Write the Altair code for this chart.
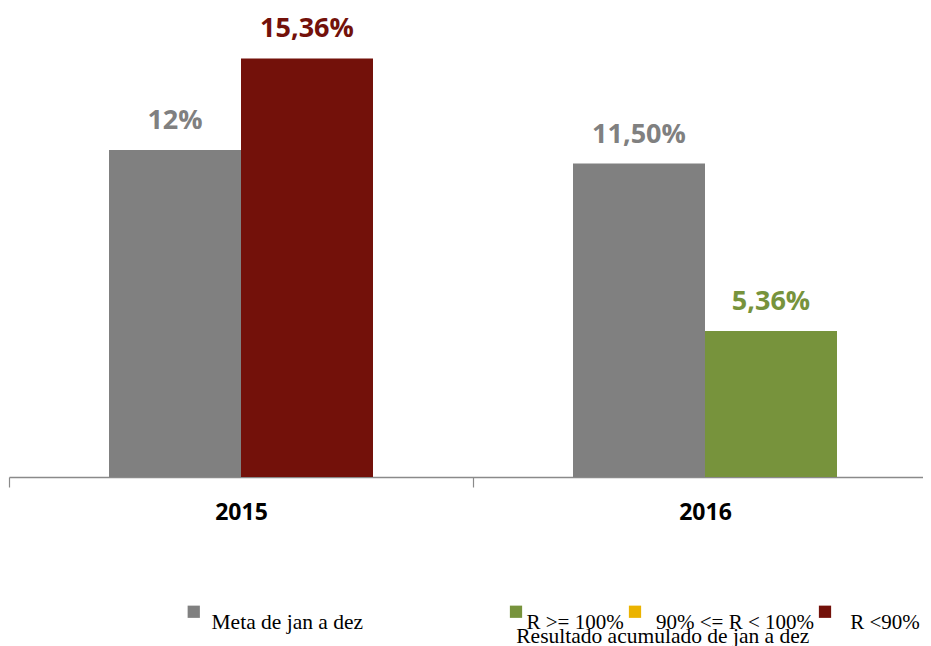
import altair as alt
import pandas as pd

# ---- data ----
years = ["2015", "2016"]
meta_values = [12.0, 11.5]
meta_labels = ["12%", "11,50%"]
result_values = [15.36, 5.36]
result_labels = ["15,36%", "5,36%"]
result_status = ["R <90%", "R >= 100%"]

meta_name = "Meta de jan a dez"
status_order = ["R >= 100%", "90% <= R < 100%", "R <90%"]
status_colors = ["#77933c", "#ebb300", "#73110a"]
meta_color = "#808080"
legend2_title = "Resultado acumulado de jan a dez"

ZW = "\u200b"   # keeps leading spacing from being trimmed
NB = "\u00a0"
EN = "\u2002"
TH = "\u2009"

meta_df = pd.DataFrame({
    "ano": years,
    "serie": ["Meta"] * len(years),
    "valor": meta_values,
    "rotulo": meta_labels,
    "legenda": [meta_name] * len(years),
})
res_df = pd.DataFrame({
    "ano": years,
    "serie": ["Resultado"] * len(years),
    "valor": result_values,
    "rotulo": result_labels,
    "legenda": result_status,
})

x_enc = alt.X(
    "ano:N",
    scale=alt.Scale(range=[0, 928], paddingInner=0, paddingOuter=0),
    axis=alt.Axis(
        title=None, labelAngle=0, labelFont="Open Sans", labelFontWeight="bold",
        labelFontSize=23, labelColor="black", labelBaseline="alphabetic",
        labelPadding=32, tickSize=10, tickBand="extent", tickColor="#8a8a8a",
        domainColor="#8a8a8a", domainWidth=1.5, tickWidth=1.2, grid=False,
    ),
)
xoff_enc = alt.XOffset(
    "serie:N",
    scale=alt.Scale(domain=["Meta", "Resultado"], paddingInner=0, paddingOuter=0.7576),
)
y_enc = alt.Y("valor:Q", scale=alt.Scale(domain=[0, 17.21], nice=False, zero=True), axis=None)

text_props = dict(dy=-21, baseline="alphabetic", align="center", font="Open Sans",
                  fontWeight="bold", fontSize=27)

meta_color_enc = alt.Color(
    "legenda:N",
    scale=alt.Scale(domain=[meta_name], range=[meta_color]),
    legend=alt.Legend(
        orient="none", legendX=174, legendY=593, title=None, symbolType="square",
        symbolSize=150, symbolStrokeWidth=0, labelFont="Liberation Serif",
        labelFontSize=21.5, labelColor="black", labelOffset=7, padding=0,
        labelBaseline="top", labelLimit=400,
    ),
)
label_expr = (
    "indexof(datum.label, '90%') == 0 ? '" + ZW + EN + "' + datum.label : "
    "indexof(datum.label, 'R <') == 0 ? '" + ZW + EN + TH + "' + datum.label : datum.label"
)
res_color_enc = alt.Color(
    "legenda:N",
    scale=alt.Scale(domain=status_order, range=status_colors),
    legend=alt.Legend(
        orient="none", legendX=496.5, legendY=593, direction="horizontal",
        title=ZW + EN + legend2_title, titleOrient="bottom", titleAnchor="start",
        titleFont="Liberation Serif", titleFontSize=21.5, titleFontWeight="normal",
        titleColor="black", titlePadding=-7, titleLimit=600,
        symbolType="square", symbolSize=150, symbolStrokeWidth=0,
        labelFont="Liberation Serif", labelFontSize=21, labelColor="black",
        labelOffset=0, columnPadding=0, padding=0, labelBaseline="top", labelLimit=400,
        labelExpr=label_expr,
    ),
)

meta_bar = alt.Chart(meta_df).mark_bar().encode(x=x_enc, xOffset=xoff_enc, y=y_enc, color=meta_color_enc)
meta_text = alt.Chart(meta_df).mark_text(**text_props).encode(
    x=x_enc, xOffset=xoff_enc, y=y_enc, text="rotulo:N", color=meta_color_enc)
res_bar = alt.Chart(res_df).mark_bar().encode(x=x_enc, xOffset=xoff_enc, y=y_enc, color=res_color_enc)
res_text = alt.Chart(res_df).mark_text(**text_props).encode(
    x=x_enc, xOffset=xoff_enc, y=y_enc, text="rotulo:N", color=res_color_enc)

meta_layer = alt.layer(meta_bar, meta_text)
res_layer = alt.layer(res_bar, res_text)

chart = (
    alt.layer(meta_layer, res_layer)
    .resolve_scale(color="independent")
    .properties(
        width=914, height=469,
        padding={"left": 1, "top": 0, "right": 0, "bottom": 169},
        autosize=alt.AutoSizeParams(type="none"),
        background="white",
    )
    .configure_view(stroke=None)
)

chart.save("out.html", embed_options={"renderer": "svg", "actions": False})
